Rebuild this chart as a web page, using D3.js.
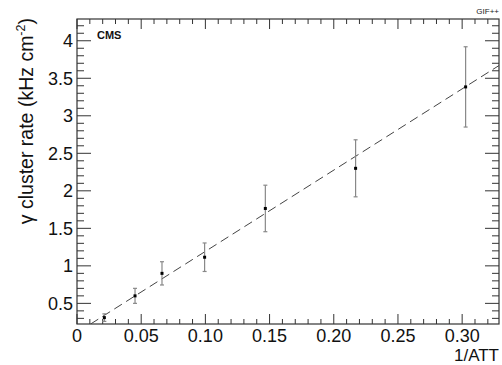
<!DOCTYPE html>
<html>
<head>
<meta charset="utf-8">
<script src="https://cdn.jsdelivr.net/npm/d3@7"></script>
<style>
  body { margin: 0; background: #fff; }
  svg { font-family: "Liberation Sans", Arial, Helvetica, sans-serif; }
</style>
</head>
<body>
<div id="chart"></div>
<script>
// measured points: 1/ATT vs gamma cluster rate
var att = [0.0213, 0.0452, 0.0662, 0.0994, 0.1467, 0.217, 0.3027];
var rate = [0.31, 0.60, 0.90, 1.115, 1.765, 2.30, 3.385];
var rateErr = [0.05, 0.10, 0.155, 0.19, 0.31, 0.38, 0.535];
// linear fit
var fitSlope = 10.83, fitIntercept = 0.11;
var xTicks = [0, 0.05, 0.10, 0.15, 0.20, 0.25, 0.30];
var xTickLabels = ["0", "0.05", "0.10", "0.15", "0.20", "0.25", "0.30"];
var yTicks = [0.5, 1, 1.5, 2, 2.5, 3, 3.5, 4];

var W = 502, H = 365;
var margin = {top: 19, right: 3, bottom: 41, left: 77},
    width = W - margin.left - margin.right,
    height = H - margin.top - margin.bottom;

var x = d3.scaleLinear().domain([0, 0.3287]).range([0, width]);
var y = d3.scaleLinear().domain([0.225, 4.29]).range([height, 0]);

var svg = d3.select("#chart").append("svg")
    .attr("width", W).attr("height", H);

var g = svg.append("g")
    .attr("transform", "translate(" + margin.left + "," + margin.top + ")");

g.append("defs").append("clipPath").attr("id", "clip")
  .append("rect").attr("width", width).attr("height", height);

var axisCol = "#333";

// minor ticks
var xMinor = d3.range(0, 0.33, 0.01);
var yMinor = d3.range(0.3, 4.3, 0.1);
function isMajorY(d) { return Math.abs(d * 2 - Math.round(d * 2)) < 1e-6; }

// bottom + top x ticks
g.selectAll(".xt").data(xMinor).enter().append("line")
    .attr("x1", function(d) { return x(d); }).attr("x2", function(d) { return x(d); })
    .attr("y1", height).attr("y2", function(d, i) { return height - (i % 5 == 0 ? 10 : 5); })
    .attr("stroke", axisCol);
g.selectAll(".xtt").data(xMinor).enter().append("line")
    .attr("x1", function(d) { return x(d); }).attr("x2", function(d) { return x(d); })
    .attr("y1", 0).attr("y2", function(d, i) { return (i % 5 == 0 ? 10 : 5); })
    .attr("stroke", axisCol);

// left + right y ticks
g.selectAll(".yt").data(yMinor).enter().append("line")
    .attr("x1", 0).attr("x2", function(d) { return isMajorY(d) ? 14 : 7; })
    .attr("y1", function(d) { return y(d); }).attr("y2", function(d) { return y(d); })
    .attr("stroke", axisCol);
g.selectAll(".ytr").data(yMinor).enter().append("line")
    .attr("x1", width).attr("x2", function(d) { return width - (isMajorY(d) ? 14 : 7); })
    .attr("y1", function(d) { return y(d); }).attr("y2", function(d) { return y(d); })
    .attr("stroke", axisCol);

// frame
g.append("rect").attr("width", width).attr("height", height)
    .attr("fill", "none").attr("stroke", axisCol).attr("stroke-width", 1.2);

// tick labels
g.selectAll(".xl").data(xTicks).enter().append("text")
    .attr("x", function(d) { return x(d); })
    .attr("y", height + 18)
    .attr("text-anchor", "middle")
    .attr("font-size", 18)
    .attr("fill", "#111")
    .text(function(d, i) { return xTickLabels[i]; });

g.selectAll(".yl").data(yTicks).enter().append("text")
    .attr("x", -4)
    .attr("y", function(d) { return y(d); })
    .attr("dy", "0.35em")
    .attr("text-anchor", "end")
    .attr("font-size", 18)
    .attr("fill", "#111")
    .text(function(d) { return d; });

// axis titles
svg.append("text")
    .attr("x", 499).attr("y", 361)
    .attr("text-anchor", "end")
    .attr("font-size", 17)
    .attr("fill", "#111")
    .text("1/ATT");

var yt = svg.append("text")
    .attr("transform", "translate(33,18) rotate(-90)")
    .attr("text-anchor", "end")
    .attr("font-size", 19.5)
    .attr("fill", "#111");
yt.append("tspan").text("γ cluster rate (kHz cm");
yt.append("tspan").attr("dy", -8).attr("font-size", 12.5).text("-2");
yt.append("tspan").attr("dy", 8).text(")");

svg.append("text")
    .attr("x", 97).attr("y", 38.5)
    .attr("font-size", 11).attr("font-weight", "bold")
    .attr("fill", "#111")
    .text("CMS");

svg.append("text")
    .attr("x", 499).attr("y", 14)
    .attr("text-anchor", "end")
    .attr("font-size", 8)
    .attr("fill", "#222")
    .text("GIF++");

var plot = g.append("g").attr("clip-path", "url(#clip)");

// fit line
var x0 = (0.225 - fitIntercept) / fitSlope;
plot.append("line")
    .attr("x1", x(x0)).attr("y1", y(fitIntercept + fitSlope * x0))
    .attr("x2", x(0.3287)).attr("y2", y(fitIntercept + fitSlope * 0.3287))
    .attr("stroke", "#444").attr("stroke-width", 1)
    .attr("stroke-dasharray", "9,5");

var pts = att.map(function(d, i) { return {x: d, y: rate[i], e: rateErr[i]}; });

// error bars
var eb = plot.selectAll(".eb").data(pts).enter().append("g").attr("stroke", "#888").attr("stroke-width", 1.2);
eb.append("line")
    .attr("x1", function(d) { return x(d.x); }).attr("x2", function(d) { return x(d.x); })
    .attr("y1", function(d) { return y(d.y + d.e); }).attr("y2", function(d) { return y(d.y - d.e); });
eb.append("line")
    .attr("x1", function(d) { return x(d.x) - 2; }).attr("x2", function(d) { return x(d.x) + 2; })
    .attr("y1", function(d) { return y(d.y + d.e); }).attr("y2", function(d) { return y(d.y + d.e); });
eb.append("line")
    .attr("x1", function(d) { return x(d.x) - 2; }).attr("x2", function(d) { return x(d.x) + 2; })
    .attr("y1", function(d) { return y(d.y - d.e); }).attr("y2", function(d) { return y(d.y - d.e); });

// markers
plot.selectAll(".pt").data(pts).enter().append("rect")
    .attr("x", function(d) { return x(d.x) - 1.5; })
    .attr("y", function(d) { return y(d.y) - 1.5; })
    .attr("width", 3).attr("height", 3)
    .attr("fill", "#000");
</script>
</body>
</html>
